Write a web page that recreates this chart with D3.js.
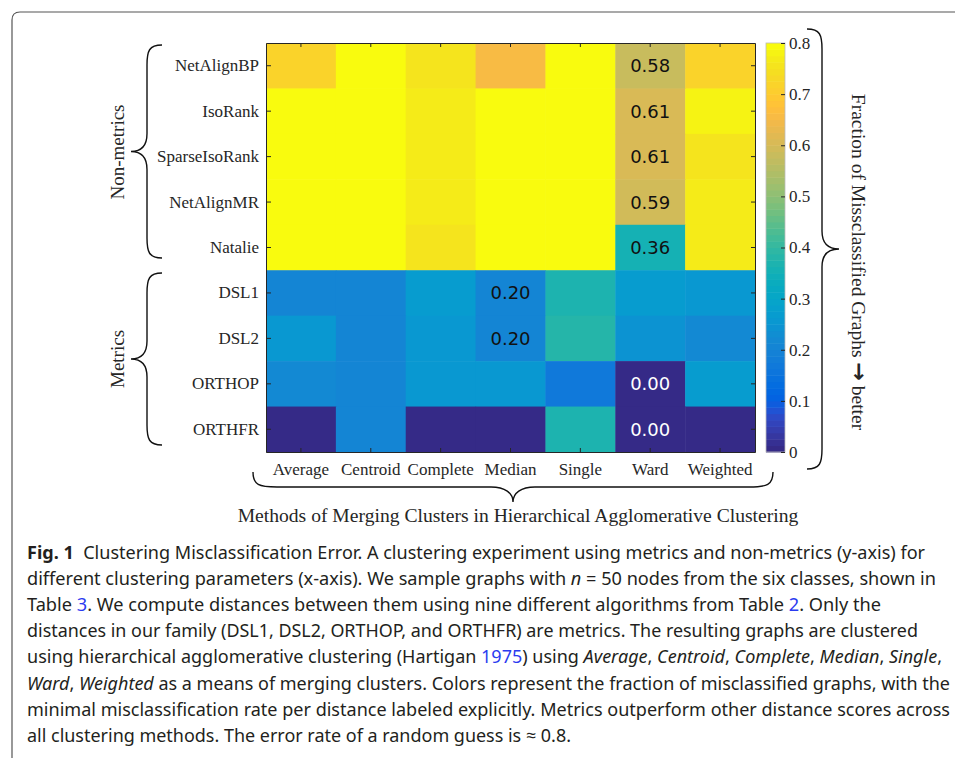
<!DOCTYPE html>
<html lang="en">
<head>
  <meta charset="UTF-8"/>
  <title>Clustering Misclassification Error</title>
  <script src="https://d3js.org/d3.v7.min.js"></script>
  <style>
    body { margin: 0; background: #fff; }
    svg text { fill: #262626; }
  </style>
</head>
<body>
<script>

// categories
var methods   = ["Average", "Centroid", "Complete", "Median", "Single", "Ward", "Weighted"];
var distances = ["NetAlignBP", "IsoRank", "SparseIsoRank", "NetAlignMR", "Natalie",
                 "DSL1", "DSL2", "ORTHOP", "ORTHFR"];

// fraction of misclassified graphs, one array per distance (order = methods)
var errNetAlignBP    = [0.72, 0.80, 0.76, 0.66, 0.80, 0.58, 0.72];
var errIsoRank       = [0.80, 0.80, 0.77, 0.80, 0.80, 0.61, 0.78];
var errSparseIsoRank = [0.80, 0.80, 0.77, 0.80, 0.80, 0.61, 0.76];
var errNetAlignMR    = [0.80, 0.80, 0.77, 0.80, 0.80, 0.59, 0.77];
var errNatalie       = [0.80, 0.80, 0.75, 0.80, 0.80, 0.36, 0.77];
var errDSL1          = [0.21, 0.21, 0.27, 0.20, 0.37, 0.27, 0.26];
var errDSL2          = [0.25, 0.21, 0.25, 0.20, 0.38, 0.24, 0.22];
var errORTHOP        = [0.22, 0.21, 0.26, 0.25, 0.17, 0.00, 0.27];
var errORTHFR        = [0.00, 0.21, 0.00, 0.00, 0.37, 0.00, 0.00];

// cell holding the labelled minimum of each distance
var bestMethod = ["Ward", "Ward", "Ward", "Ward", "Ward", "Median", "Median", "Ward", "Ward"];

var colorTicks = [0, 0.1, 0.2, 0.3, 0.4, 0.5, 0.6, 0.7, 0.8];

var rows = [errNetAlignBP, errIsoRank, errSparseIsoRank, errNetAlignMR, errNatalie,
            errDSL1, errDSL2, errORTHOP, errORTHFR];

// matlab parula, 64 steps
var parula = [
 [0.2081,0.1663,0.5292],[0.2116,0.1898,0.5777],[0.2123,0.2138,0.6270],[0.2081,0.2386,0.6771],
 [0.1959,0.2645,0.7279],[0.1707,0.2919,0.7792],[0.1253,0.3242,0.8303],[0.0591,0.3598,0.8683],
 [0.0117,0.3875,0.8820],[0.0060,0.4086,0.8828],[0.0165,0.4266,0.8786],[0.0329,0.4430,0.8720],
 [0.0498,0.4586,0.8641],[0.0629,0.4737,0.8554],[0.0723,0.4887,0.8467],[0.0779,0.5040,0.8384],
 [0.0793,0.5200,0.8312],[0.0749,0.5375,0.8263],[0.0641,0.5570,0.8240],[0.0488,0.5772,0.8228],
 [0.0343,0.5966,0.8199],[0.0265,0.6137,0.8135],[0.0239,0.6287,0.8038],[0.0231,0.6418,0.7913],
 [0.0228,0.6535,0.7768],[0.0267,0.6642,0.7607],[0.0384,0.6743,0.7436],[0.0590,0.6838,0.7254],
 [0.0843,0.6928,0.7062],[0.1133,0.7015,0.6859],[0.1453,0.7098,0.6646],[0.1801,0.7177,0.6424],
 [0.2178,0.7250,0.6193],[0.2586,0.7317,0.5954],[0.3022,0.7376,0.5712],[0.3482,0.7424,0.5473],
 [0.3953,0.7459,0.5244],[0.4420,0.7481,0.5033],[0.4871,0.7491,0.4840],[0.5300,0.7491,0.4661],
 [0.5709,0.7485,0.4494],[0.6099,0.7473,0.4337],[0.6473,0.7456,0.4188],[0.6834,0.7435,0.4044],
 [0.7184,0.7411,0.3905],[0.7525,0.7384,0.3768],[0.7858,0.7356,0.3633],[0.8185,0.7327,0.3498],
 [0.8507,0.7299,0.3360],[0.8824,0.7274,0.3217],[0.9139,0.7258,0.3063],[0.9450,0.7261,0.2886],
 [0.9739,0.7314,0.2666],[0.9938,0.7455,0.2403],[0.9990,0.7653,0.2164],[0.9955,0.7861,0.1967],
 [0.9880,0.8066,0.1794],[0.9789,0.8271,0.1633],[0.9697,0.8481,0.1475],[0.9626,0.8705,0.1309],
 [0.9589,0.8949,0.1132],[0.9598,0.9218,0.0948],[0.9661,0.9514,0.0755],[0.9763,0.9831,0.0538]
].map(function(c) { return d3.rgb(c[0]*255, c[1]*255, c[2]*255).formatHex(); });

var w = 955, h = 758;
var serif = "'Liberation Serif', 'Times New Roman', serif";

var svg = d3.select("body").append("svg")
  .attr("width", w)
  .attr("height", h);

// page frame
svg.append("path")
  .attr("d", "M970,12 H20 Q12,12 12,20 V780")
  .attr("fill", "none")
  .attr("stroke", "#555")
  .attr("stroke-width", 1.2);

var xScale = d3.scaleBand().domain(methods).range([266, 755]);
var yScale = d3.scaleBand().domain(distances).range([43, 452]);
var color  = d3.scaleQuantize().domain([0, 0.8]).range(parula);

var cells = [];
rows.forEach(function(r, i) {
  r.forEach(function(v, j) {
    cells.push({ dist: distances[i], method: methods[j], value: v,
                 best: bestMethod[i] === methods[j] });
  });
});

svg.append("g").selectAll("rect")
  .data(cells)
  .enter()
  .append("rect")
  .attr("x", function(d) { return xScale(d.method); })
  .attr("y", function(d) { return yScale(d.dist); })
  .attr("width", xScale.bandwidth() + 0.5)
  .attr("height", yScale.bandwidth() + 0.5)
  .attr("fill", function(d) { return color(d.value); });

svg.append("g").selectAll("text")
  .data(cells.filter(function(d) { return d.best; }))
  .enter()
  .append("text")
  .attr("x", function(d) { return xScale(d.method) + xScale.bandwidth() / 2; })
  .attr("y", function(d) { return yScale(d.dist) + yScale.bandwidth() / 2; })
  .attr("dy", "0.36em")
  .attr("text-anchor", "middle")
  .style("font-family", "'DejaVu Sans', sans-serif")
  .style("font-size", "18px")
  .style("fill", function(d) { return d.value < 0.1 ? "#fff" : "#111"; })
  .text(function(d) { return d3.format(".2f")(d.value); });

// axes box with inward ticks
function styleAxis(g) {
  g.selectAll("path.domain").attr("stroke", "#262626").attr("stroke-width", 1);
  g.selectAll(".tick line").attr("stroke", "#262626").attr("stroke-width", 1);
  g.selectAll("text").style("font-family", serif).style("font-size", "17px").attr("fill", "#262626");
}

svg.append("g")
  .attr("transform", "translate(0,43)")
  .call(d3.axisTop(xScale).tickSizeInner(-4).tickSizeOuter(0).tickFormat(""))
  .call(styleAxis);

svg.append("g")
  .attr("transform", "translate(0,452)")
  .call(d3.axisBottom(xScale).tickSizeInner(-4).tickSizeOuter(0).tickPadding(11))
  .call(styleAxis);

svg.append("g")
  .attr("transform", "translate(266,0)")
  .call(d3.axisLeft(yScale).tickSizeInner(-5).tickSizeOuter(0).tickPadding(7))
  .call(styleAxis);

svg.append("g")
  .attr("transform", "translate(755,0)")
  .call(d3.axisRight(yScale).tickSizeInner(-4).tickSizeOuter(0).tickFormat(""))
  .call(styleAxis);

// colorbar
var cbY = d3.scaleLinear().domain([0, 0.8]).range([452, 43]);
var step = 0.8 / parula.length;

svg.append("g").selectAll("rect")
  .data(parula)
  .enter()
  .append("rect")
  .attr("x", 766)
  .attr("y", function(d, i) { return cbY((i + 1) * step); })
  .attr("width", 19)
  .attr("height", function(d, i) { return cbY(i * step) - cbY((i + 1) * step) + 0.5; })
  .attr("fill", function(d) { return d; });

svg.append("rect")
  .attr("x", 766).attr("y", 43)
  .attr("width", 19).attr("height", 409)
  .attr("fill", "none")
  .attr("stroke", "#bbb")
  .attr("stroke-width", 0.8);

svg.append("g")
  .attr("transform", "translate(785,0)")
  .call(d3.axisRight(cbY).tickValues(colorTicks).tickSizeInner(-4).tickSizeOuter(0).tickPadding(4)
    .tickFormat(function(d) { return d === 0 ? "0" : d3.format(".1f")(d); }))
  .call(styleAxis)
  .call(function(g) {
    g.select("path.domain").remove();
    g.selectAll("text").style("font-size", "17px");
  });

// braces
function vBrace(x0, spine, tip, y0, y1) {
  var ym = (y0 + y1) / 2;
  var s = spine > x0 ? 1 : -1;
  return "M" + x0 + "," + y0 +
    " C" + (spine - s * 2) + "," + y0 + " " + spine + "," + (y0 + 6) + " " + spine + "," + (y0 + 20) +
    " L" + spine + "," + (ym - 18) +
    " C" + spine + "," + (ym - 6) + " " + (spine + s * 6) + "," + ym + " " + tip + "," + ym +
    " C" + (spine + s * 6) + "," + ym + " " + spine + "," + (ym + 6) + " " + spine + "," + (ym + 18) +
    " L" + spine + "," + (y1 - 20) +
    " C" + spine + "," + (y1 - 6) + " " + (spine - s * 2) + "," + y1 + " " + x0 + "," + y1;
}

function hBrace(x0, x1, y0, spine, tip) {
  var xm = (x0 + x1) / 2;
  return "M" + x0 + "," + y0 +
    " C" + x0 + "," + (spine - 2) + " " + (x0 + 6) + "," + spine + " " + (x0 + 24) + "," + spine +
    " L" + (xm - 22) + "," + spine +
    " C" + (xm - 8) + "," + spine + " " + xm + "," + (spine + 6) + " " + xm + "," + tip +
    " C" + xm + "," + (spine + 6) + " " + (xm + 8) + "," + spine + " " + (xm + 22) + "," + spine +
    " L" + (x1 - 24) + "," + spine +
    " C" + (x1 - 6) + "," + spine + " " + x1 + "," + (spine - 2) + " " + x1 + "," + y0;
}

var braces = svg.append("g")
  .attr("fill", "none")
  .attr("stroke", "#111")
  .attr("stroke-width", 1.4);

braces.append("path").attr("d", vBrace(162, 147, 131, 45, 258));
braces.append("path").attr("d", vBrace(162, 147, 131, 273, 445));
braces.append("path").attr("d", vBrace(807, 822, 839, 29, 469));
braces.append("path").attr("d", hBrace(253, 773, 472, 487, 502));

svg.append("text")
  .attr("transform", "translate(118,152) rotate(-90)")
  .attr("text-anchor", "middle")
  .attr("dy", "0.32em")
  .style("font-family", serif)
  .style("font-size", "19px")
  .text("Non-metrics");

svg.append("text")
  .attr("transform", "translate(118,359) rotate(-90)")
  .attr("text-anchor", "middle")
  .attr("dy", "0.32em")
  .style("font-family", serif)
  .style("font-size", "19px")
  .text("Metrics");

var rLab = svg.append("text")
  .attr("transform", "translate(858,262) rotate(90)")
  .attr("text-anchor", "middle")
  .attr("dy", "0.32em")
  .style("font-family", serif)
  .style("font-size", "19.5px");
rLab.append("tspan").text("Fraction of Missclassified Graphs ");
rLab.append("tspan").style("font-family", "'DejaVu Sans', sans-serif").style("font-weight", "bold")
  .style("font-size", "22px").text("\u2192");
rLab.append("tspan").text(" better");

svg.append("text")
  .attr("x", 518)
  .attr("y", 522)
  .attr("text-anchor", "middle")
  .style("font-family", serif)
  .style("font-size", "19.6px")
  .text("Methods of Merging Clusters in Hierarchical Agglomerative Clustering");

// caption
var captionLines = [
  [["b", "Fig. 1"], ["", "  Clustering Misclassification Error. A clustering experiment using metrics and non-metrics (y-axis) for"]],
  [["", "different clustering parameters (x-axis). We sample graphs with "], ["i", "n"], ["", " = 50 nodes from the six classes, shown in"]],
  [["", "Table "], ["a", "3"], ["", ". We compute distances between them using nine different algorithms from Table "], ["a", "2"], ["", ". Only the"]],
  [["", "distances in our family (DSL1, DSL2, ORTHOP, and ORTHFR) are metrics. The resulting graphs are clustered"]],
  [["", "using hierarchical agglomerative clustering (Hartigan "], ["a", "1975"], ["", ") using "], ["i", "Average"], ["", ", "], ["i", "Centroid"], ["", ", "], ["i", "Complete"], ["", ", "], ["i", "Median"], ["", ", "], ["i", "Single"], ["", ","]],
  [["i", "Ward"], ["", ", "], ["i", "Weighted"], ["", " as a means of merging clusters. Colors represent the fraction of misclassified graphs, with the"]],
  [["", "minimal misclassification rate per distance labeled explicitly. Metrics outperform other distance scores across"]],
  [["", "all clustering methods. The error rate of a random guess is \u2248 0.8."]]
];
var lineWidths = [898, 909, 854, 891, 915, 923, 923, 544];

var cap = svg.append("g")
  .style("font-family", "'Noto Sans', 'Open Sans', sans-serif")
  .style("font-size", "18px");

captionLines.forEach(function(line, i) {
  var t = cap.append("text")
    .attr("x", 27)
    .attr("y", 559 + i * 26.1)
    .attr("textLength", lineWidths[i])
    .attr("lengthAdjust", "spacingAndGlyphs")
    .attr("xml:space", "preserve");
  line.forEach(function(p) {
    var s = t.append("tspan").text(p[1]).style("fill", "#231f20");
    if (p[0] === "b") s.style("font-weight", "bold");
    if (p[0] === "i") s.style("font-style", "italic");
    if (p[0] === "a") s.style("fill", "#2b3bf0");
  });
});

</script>
</body>
</html>
